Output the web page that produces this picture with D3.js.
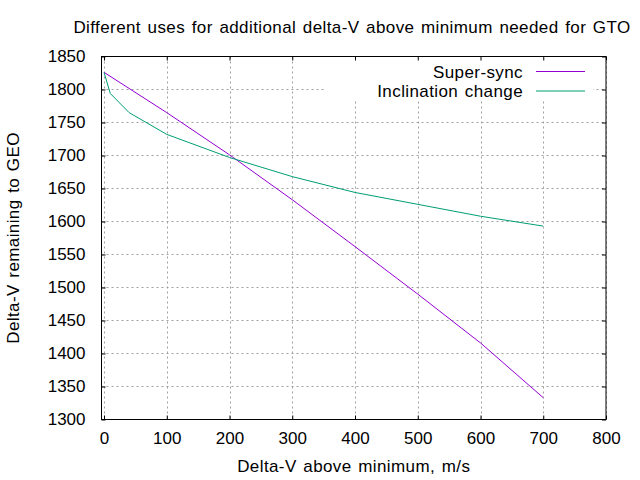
<!DOCTYPE html>
<html><head><meta charset="utf-8">
<script src="https://cdn.jsdelivr.net/npm/d3@7"></script>
<style>
body{margin:0;background:#fff;}
text{font-family:"Liberation Sans",Arial,sans-serif;fill:#000;}
.lbl{letter-spacing:0.4px;word-spacing:1.5px;}
</style></head>
<body><svg id="c" width="640" height="480"></svg>
<script>
const xSuper = [0, 100, 200, 300, 400, 500, 600, 700];
const ySuper = [1826, 1765, 1701, 1633, 1562, 1490, 1416, 1333];
const xIncl = [0, 10, 40, 100, 200, 300, 400, 500, 600, 700];
const yIncl = [1826, 1794, 1765, 1732, 1697, 1668, 1644, 1626, 1608, 1593];
const xTicks = [0, 100, 200, 300, 400, 500, 600, 700, 800];
const yTicks = [1300, 1350, 1400, 1450, 1500, 1550, 1600, 1650, 1700, 1750, 1800, 1850];
const seriesNames = ["Super-sync", "Inclination change"];
const seriesColors = ["#9400d3", "#009e73"];
const title = "Different uses for additional delta-V above minimum needed for GTO";
const xTitle = "Delta-V above minimum, m/s";
const yTitle = "Delta-V remaining to GEO";

const L = 101.5, R = 606, T = 56.5, B = 419.5;
const fs = 17;
const svg = d3.select("#c");
const x = d3.scaleLinear().domain([-4, 800]).range([L, R]);
const y = d3.scaleLinear().domain([1300, 1850]).range([B, T]);

// grid
const g = svg.append("g").attr("stroke", "#a0a0a0").attr("stroke-dasharray", "2,3").attr("stroke-width", 1);
xTicks.forEach(v => g.append("line").attr("x1", Math.round(x(v)) + 0.5).attr("x2", Math.round(x(v)) + 0.5).attr("y1", T).attr("y2", B));
yTicks.forEach(v => g.append("line").attr("y1", Math.round(y(v) - 0.5) + 0.5).attr("y2", Math.round(y(v) - 0.5) + 0.5).attr("x1", L).attr("x2", R));

// legend background
svg.append("rect").attr("x", 325).attr("y", T + 0.5).attr("width", 268).attr("height", 43).attr("fill", "#fff");

// axes
function styleAxis(sel, labels) {
  sel.select(".domain").remove();
  sel.selectAll(".tick line").attr("stroke", "#000");
  sel.selectAll("text").style("font-family", "'Liberation Sans', Arial, sans-serif").style("font-size", fs + "px").attr("fill", "#000");
  if (!labels) sel.selectAll("text").remove();
}
const fmt = d3.format("d");
svg.append("g").attr("transform", `translate(0,${B})`)
  .call(d3.axisBottom(x).tickValues(xTicks).tickSize(-4).tickPadding(12).tickFormat(fmt))
  .call(s => styleAxis(s, true));
svg.append("g").attr("transform", `translate(0,${T})`)
  .call(d3.axisTop(x).tickValues(xTicks).tickSize(-4).tickFormat(fmt))
  .call(s => styleAxis(s, false));
svg.append("g").attr("transform", `translate(${L},0)`)
  .call(d3.axisLeft(y).tickValues(yTicks).tickSize(-4).tickPadding(16).tickFormat(fmt))
  .call(s => styleAxis(s, true));
svg.append("g").attr("transform", `translate(${R},0)`)
  .call(d3.axisRight(y).tickValues(yTicks).tickSize(-4).tickFormat(fmt))
  .call(s => styleAxis(s, false));

// frame
svg.append("rect").attr("x", L).attr("y", T).attr("width", R - L).attr("height", B - T)
  .attr("fill", "none").attr("stroke", "#000").attr("stroke-width", 1);

// lines
const line = d3.line().x(d => x(d[0])).y(d => y(d[1]));
const series = [d3.zip(xSuper, ySuper), d3.zip(xIncl, yIncl)];
series.forEach((s, i) => {
  svg.append("path").datum(s).attr("d", line).attr("fill", "none")
    .attr("stroke", seriesColors[i]).attr("stroke-width", 1);
});

// legend
seriesNames.forEach((n, i) => {
  const ly = 71.5 + i * 19.5;
  svg.append("text").attr("class", "lbl").attr("x", 523).attr("y", ly + 6).attr("text-anchor", "end")
    .style("font-size", fs + "px").text(n);
  svg.append("line").attr("x1", 536).attr("x2", 585).attr("y1", ly).attr("y2", ly)
    .attr("stroke", seriesColors[i]).attr("stroke-width", 1);
});

// titles
svg.append("text").attr("class", "lbl").attr("x", 352).attr("y", 33).attr("text-anchor", "middle").style("font-size", fs + "px").text(title);
svg.append("text").attr("class", "lbl").attr("x", (L + R) / 2).attr("y", 472).attr("text-anchor", "middle").style("font-size", fs + "px").text(xTitle);
svg.append("text").attr("class", "lbl").attr("transform", `translate(19,238) rotate(-90)`).attr("text-anchor", "middle").style("font-size", fs + "px").text(yTitle);
</script></body></html>
